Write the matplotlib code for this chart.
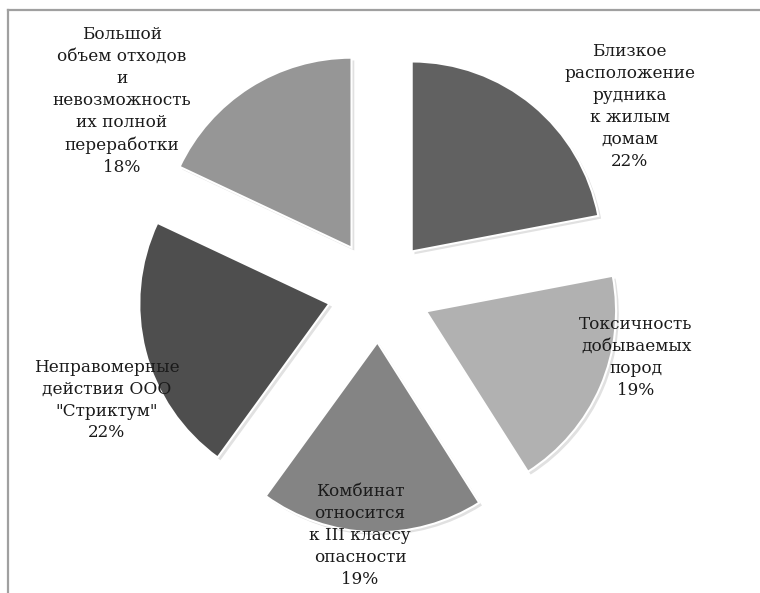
import matplotlib
matplotlib.use("Agg")
import matplotlib.pyplot as plt
import matplotlib.patheffects as pe
from matplotlib.lines import Line2D

labels = [
    "Близкое\nрасположение\nрудника\nк жилым\nдомам",
    "Токсичность\nдобываемых\nпород",
    "Комбинат\nотносится\nк III классу\nопасности",
    "Неправомерные\nдействия ООО\n\"Стриктум\"",
    "Большой\nобъем отходов\nи\nневозможность\nих полной\nпереработки",
]
shares = [22, 19, 19, 22, 18]
colors = ["#616161", "#b1b1b1", "#848484", "#4e4e4e", "#969696"]
# label anchor points (pie radius units, centre at 0,0)
label_xy = [(1.32, 0.97), (1.353, -0.35), (-0.10, -1.285), (-1.432, -0.574), (-1.353, 1.0)]

fig = plt.figure(figsize=(7.6, 5.93), dpi=100)
ax = fig.add_axes([0, 0, 1, 1])

wedges, _ = ax.pie(shares, colors=colors, startangle=90, counterclock=False,
                   explode=[0.27] * len(shares), radius=1,
                   wedgeprops=dict(edgecolor="white", linewidth=1.5))
for w in wedges:
    w.set_path_effects([pe.SimplePatchShadow(offset=(2, -2), alpha=0.25,
                                             shadow_rgbFace="#888888"),
                        pe.Normal()])

# pie() resets limits, so fix the view afterwards
ax.set_xlim(-379 / 190, (760 - 379) / 190)
ax.set_ylim(-(593 - 291) / 190, 291 / 190)
ax.set_aspect("equal")
ax.axis("off")

for lab, pct, (x, y) in zip(labels, shares, label_xy):
    ax.text(x, y, f"{lab}\n{pct}%", ha="center", va="center",
            fontsize=12.2, family="DejaVu Serif", color="#1a1a1a",
            linespacing=1.38)

# chart-area frame (only top and left edges visible in the crop)
fig.add_artist(Line2D([8 / 760, 1.0], [1 - 10 / 593] * 2,
                      transform=fig.transFigure, color="#a0a0a0", lw=1.6))
fig.add_artist(Line2D([8 / 760] * 2, [0, 1 - 10 / 593],
                      transform=fig.transFigure, color="#a0a0a0", lw=1.6))

fig.savefig("out.png", dpi=100)
